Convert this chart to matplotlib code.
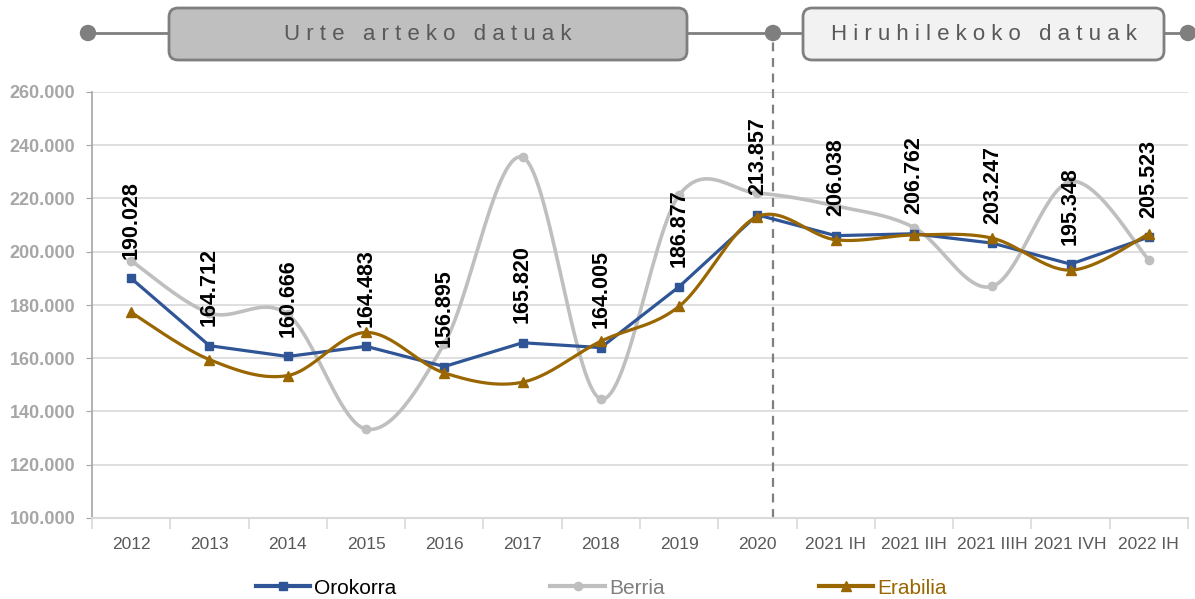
import numpy as np
import matplotlib
matplotlib.use('Agg')
import matplotlib.pyplot as plt
from matplotlib.patches import FancyBboxPatch, Circle
from matplotlib.ticker import FixedLocator, FuncFormatter

plt.rcParams['font.family'] = ['Liberation Sans', 'DejaVu Sans']

# ── DATA ───────────────────────────────────────────────────────────────────────
periods = ['2012', '2013', '2014', '2015', '2016', '2017', '2018', '2019', '2020',
           '2021 IH', '2021 IIH', '2021 IIIH', '2021 IVH', '2022 IH']
orokorra = [190028, 164712, 160666, 164483, 156895, 165820, 164005, 186877, 213857,
            206038, 206762, 203247, 195348, 205523]
berria = [196600, 177000, 176500, 133400, 165500, 235500, 144700, 221300, 222000,
          217200, 209100, 187000, 226400, 197000]
erabilia = [177200, 159500, 153500, 169700, 154500, 151000, 166400, 179500, 213200,
            204500, 206300, 205100, 193100, 206700]

BLUE = '#2F5597'
GRAY = '#BFBFBF'
BROWN = '#996600'


def smooth(xs, ys, n=30):
    """Excel-like smoothed line (Catmull-Rom through the points)"""
    p = np.column_stack([xs, ys]).astype(float)
    p = np.vstack([p[0], p, p[-1]])
    out = []
    t = np.linspace(0, 1, n)[:, None]
    for i in range(1, len(p) - 2):
        p0, p1, p2, p3 = p[i - 1], p[i], p[i + 1], p[i + 2]
        c1 = p1 + (p2 - p0) / 6
        c2 = p2 - (p3 - p1) / 6
        seg = ((1 - t) ** 3) * p1 + 3 * ((1 - t) ** 2) * t * c1 + 3 * (1 - t) * t ** 2 * c2 + t ** 3 * p2
        out.append(seg if i == 1 else seg[1:])
    out = np.vstack(out)
    return out[:, 0], out[:, 1]


fig = plt.figure(figsize=(11.95, 5.99), dpi=100)
ax = fig.add_axes([92 / 1195, 1 - 518 / 599, 1096 / 1195, 426 / 599])

x = np.arange(len(periods))

# Berria (smoothed, back)
sx, sy = smooth(x, berria)
ax.plot(sx, sy, color=GRAY, linewidth=2.6, zorder=3)
ax.plot(x, berria, linestyle='none', marker='o', markersize=6, color=GRAY, zorder=3)

# Orokorra (straight)
ax.plot(x, orokorra, color=BLUE, linewidth=2.3, marker='s', markersize=6, zorder=4)

# Erabilia (smoothed, front)
sx, sy = smooth(x, erabilia)
ax.plot(sx, sy, color=BROWN, linewidth=2.3, zorder=5)
ax.plot(x, erabilia, linestyle='none', marker='^', markersize=6.5, color=BROWN, zorder=5)

# Value labels for Orokorra
for xi, v in zip(x, orokorra):
    ax.annotate(f'{v / 1000:.3f}', (xi, v), xytext=(0, 14), textcoords='offset points',
                rotation=90, ha='center', va='bottom', fontsize=15.5, fontweight='bold',
                color='black', zorder=6)

# Axes styling
ax.set_xlim(-0.5, len(periods) - 0.5)
ax.set_ylim(100000, 260000)
ax.set_yticks(np.arange(100000, 260001, 20000))
ax.yaxis.set_major_formatter(FuncFormatter(lambda v, p: f'{v / 1000:.3f}'))
ax.grid(axis='y', color='#D9D9D9', linewidth=1.2, zorder=0)
ax.set_axisbelow(True)

ax.set_xticks(x)
ax.set_xticklabels(periods)
ax.xaxis.set_minor_locator(FixedLocator(np.arange(-0.5, len(periods), 1)))
ax.tick_params(axis='x', which='major', length=0, pad=14, labelsize=12.5, labelcolor='#595959')
ax.tick_params(axis='x', which='minor', length=8, color='#D9D9D9', width=1.2)
ax.tick_params(axis='y', length=4, color='#A6A6A6', labelsize=13, labelcolor='#A6A6A6', pad=8)
for lbl in ax.get_yticklabels():
    lbl.set_fontweight('bold')

for s in ['top', 'right']:
    ax.spines[s].set_visible(False)
ax.spines['left'].set_color('#A6A6A6')
ax.spines['left'].set_linewidth(1.2)
ax.spines['bottom'].set_color('#D9D9D9')
ax.spines['bottom'].set_linewidth(1.5)

# Dashed separator between yearly and quarterly data
ax.axvline(8.2, ymin=0, ymax=(518 - 33) / 426, color='#7F7F7F', linestyle=(0, (4, 3)),
           linewidth=1.6, clip_on=False, zorder=2)

# ── BANNER (pixel overlay) ─────────────────────────────────────────────────────
ov = fig.add_axes([0, 0, 1, 1], zorder=-1)
ov.set_xlim(0, 1195)
ov.set_ylim(599, 0)
ov.axis('off')

ov.plot([88, 1188], [33, 33], color='#7F7F7F', linewidth=2, zorder=1)
for cx in [88, 773, 1188]:
    ov.add_patch(Circle((cx, 33), 7.5, color='#7F7F7F', zorder=2))

boxes = [(168, 688, '#BFBFBF', 'Urte arteko datuak'),
         (802, 1165, '#F2F2F2', 'Hiruhilekoko datuak')]
for x0, x1, fc, txt in boxes:
    ov.add_patch(FancyBboxPatch((x0 + 8, 15), x1 - x0 - 16, 38,
                                boxstyle='round,pad=7,rounding_size=9',
                                facecolor=fc, edgecolor='#7F7F7F', linewidth=2, zorder=3))
    spaced = '   '.join(' '.join(w) for w in txt.split())
    ov.text((x0 + x1) / 2, 35, spaced, ha='center', va='center', fontsize=16,
            color='#595959', zorder=4)

# ── LEGEND ─────────────────────────────────────────────────────────────────────
h1, = ax.plot([], [], color=BLUE, linewidth=3, marker='s', markersize=6)
h2, = ax.plot([], [], color=GRAY, linewidth=3, marker='o', markersize=6)
h3, = ax.plot([], [], color=BROWN, linewidth=3, marker='^', markersize=6.5)
leg = fig.legend([h1, h2, h3], ['Orokorra', 'Berria', 'Erabilia'], loc='center',
                 bbox_to_anchor=(0.503, 1 - 588 / 599), ncol=3, frameon=False,
                 fontsize=15, handlelength=2.6, handletextpad=0.2, columnspacing=7.4)
for t, c in zip(leg.get_texts(), ['black', '#7F7F7F', BROWN]):
    t.set_color(c)

fig.savefig('out.png', dpi=100)
